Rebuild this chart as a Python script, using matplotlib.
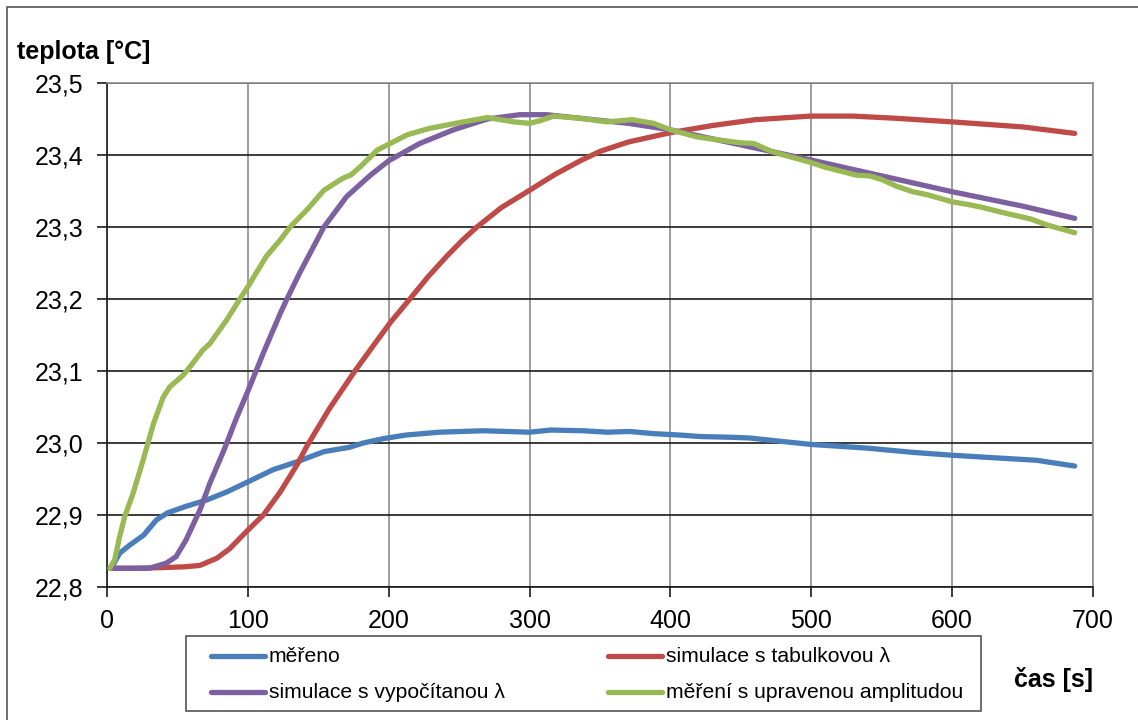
import matplotlib
matplotlib.use("Agg")
import matplotlib.pyplot as plt
from matplotlib.ticker import FuncFormatter, MultipleLocator
from matplotlib.lines import Line2D
from matplotlib.patches import Rectangle

plt.rcParams['font.family'] = ['Liberation Sans', 'DejaVu Sans']

# měřeno
t_mer = [3, 9, 16, 26, 35, 43, 56, 71, 85, 100, 118, 135, 154, 172, 182, 196, 212, 236, 267, 300, 315, 338, 355, 371, 388, 407, 421, 442, 456, 475, 500, 539, 572, 600, 634, 660, 687]
v_mer = [22.826, 22.847, 22.858, 22.872, 22.893, 22.903, 22.912, 22.921, 22.932, 22.946, 22.963, 22.974, 22.988, 22.994, 23.000, 23.006, 23.011, 23.015, 23.017, 23.015, 23.018, 23.017, 23.015, 23.016, 23.013, 23.011, 23.009, 23.008, 23.007, 23.003, 22.998, 22.993, 22.987, 22.983, 22.979, 22.976, 22.968]

# simulace s tabulkovou λ
t_tab = [3, 20, 40, 55, 66, 78, 87, 100, 111, 123, 135, 142, 150, 158, 167, 176, 189, 201, 215, 228, 241, 252, 262, 280, 300, 318, 336, 350, 370, 400, 430, 460, 499, 530, 560, 600, 650, 687]
v_tab = [22.826, 22.826, 22.827, 22.828, 22.830, 22.840, 22.853, 22.879, 22.900, 22.932, 22.970, 22.996, 23.022, 23.048, 23.074, 23.100, 23.135, 23.167, 23.200, 23.231, 23.259, 23.281, 23.299, 23.327, 23.351, 23.373, 23.392, 23.405, 23.418, 23.431, 23.441, 23.449, 23.454, 23.454, 23.451, 23.446, 23.439, 23.430]

# simulace s vypočítanou λ
t_vyp = [3, 20, 30, 42, 49, 56, 66, 73, 83, 92, 100, 111, 123, 128, 137, 154, 170, 187, 200, 222, 246, 270, 293, 312, 336, 370, 400, 450, 500, 550, 600, 650, 687]
v_vyp = [22.826, 22.826, 22.826, 22.833, 22.842, 22.865, 22.907, 22.944, 22.990, 23.035, 23.072, 23.125, 23.180, 23.201, 23.237, 23.300, 23.342, 23.372, 23.392, 23.416, 23.435, 23.450, 23.456, 23.456, 23.451, 23.444, 23.435, 23.414, 23.393, 23.371, 23.349, 23.329, 23.312]

# měření s upravenou amplitudou
t_upr = [2, 5.5, 9, 12.6, 18.5, 25.6, 33, 40, 44.6, 54, 61, 68, 73, 85, 94, 100, 113, 123, 130, 142, 154, 166, 170, 173, 180, 192, 213, 229, 253, 270, 289, 300, 308, 317, 336, 355, 373, 388, 400, 419, 449, 459, 473, 499, 510, 520, 532, 541, 550, 560, 572, 582, 600, 612, 622, 634, 645, 656, 667, 678, 687]
v_upr = [22.826, 22.838, 22.870, 22.898, 22.930, 22.976, 23.027, 23.064, 23.078, 23.094, 23.111, 23.129, 23.138, 23.171, 23.199, 23.217, 23.259, 23.282, 23.300, 23.324, 23.351, 23.366, 23.370, 23.372, 23.384, 23.407, 23.428, 23.437, 23.446, 23.452, 23.446, 23.444, 23.448, 23.454, 23.451, 23.446, 23.449, 23.444, 23.435, 23.425, 23.417, 23.416, 23.404, 23.390, 23.383, 23.378, 23.372, 23.371, 23.366, 23.357, 23.349, 23.345, 23.335, 23.331, 23.327, 23.321, 23.316, 23.311, 23.303, 23.297, 23.292]

labels = ["měřeno", "simulace s tabulkovou λ", "simulace s vypočítanou λ", "měření s upravenou amplitudou"]
colors = ["#4A7EBB", "#BE4B48", "#7D60A0", "#98B954"]

W, H = 1138, 720
fig = plt.figure(figsize=(W/100, H/100), dpi=100)
ax = fig.add_axes([107/W, 1-587/H, (1093-107)/W, (587-83)/H])

lw = 3.8
series = [(t_mer, v_mer), (t_tab, v_tab), (t_vyp, v_vyp), (t_upr, v_upr)]
for (t, v), c, z in zip(series, colors, [3, 3, 4, 5]):
    ax.plot(t, v, color=c, lw=lw, solid_capstyle='round', solid_joinstyle='round', zorder=z)

ax.set_xlim(0, 700)
ax.set_ylim(22.8, 23.5)
ax.xaxis.set_major_locator(MultipleLocator(100))
ax.yaxis.set_major_locator(MultipleLocator(0.1))
ax.yaxis.set_major_formatter(FuncFormatter(lambda v, p: f"{v:.1f}".replace('.', ',')))
ax.grid(axis='y', color='#1a1a1a', lw=1.2)
ax.grid(axis='x', color='#8c8c8c', lw=1.2)
ax.set_axisbelow(True)
for s in ['top', 'right']:
    ax.spines[s].set_color('#8c8c8c')
    ax.spines[s].set_linewidth(1.2)
for s in ['left', 'bottom']:
    ax.spines[s].set_color('#1a1a1a')
    ax.spines[s].set_linewidth(1.2)
ax.tick_params(axis='both', direction='out', length=7, width=1.2, color='#1a1a1a', labelsize=18)
ax.tick_params(axis='y', pad=10)
ax.tick_params(axis='x', pad=9)

fig.text(17/W, 1-52/H, "teplota [°C]", fontsize=18, fontweight='bold', va='center', ha='left')
fig.text(1093/W, 1-680/H, "čas [s]", fontsize=18, fontweight='bold', va='center', ha='right')

# legend box (manual layout)
fig.patches.append(Rectangle((186/W, 1-711/H), (981-186)/W, (711-636)/H, transform=fig.transFigure,
                             fill=False, edgecolor='#555555', lw=1.2, zorder=10))
entries = [(0, 211, 265, 656), (1, 608, 662, 656), (2, 211, 265, 692), (3, 608, 662, 692)]
for i, x0, x1, yy in entries:
    fig.add_artist(Line2D([x0/W, x1/W], [1-yy/H, 1-yy/H], transform=fig.transFigure,
                          color=colors[i], lw=lw, solid_capstyle='round'))
    fig.text((x1+4)/W, 1-yy/H, labels[i], fontsize=15.2, va='center', ha='left')

# outer chart border
fig.patches.append(Rectangle((7/W, -0.01), 1.2, 1-7/H+0.01, transform=fig.transFigure,
                             fill=False, edgecolor='#555555', lw=1.2))

fig.savefig("out.png", dpi=100)
